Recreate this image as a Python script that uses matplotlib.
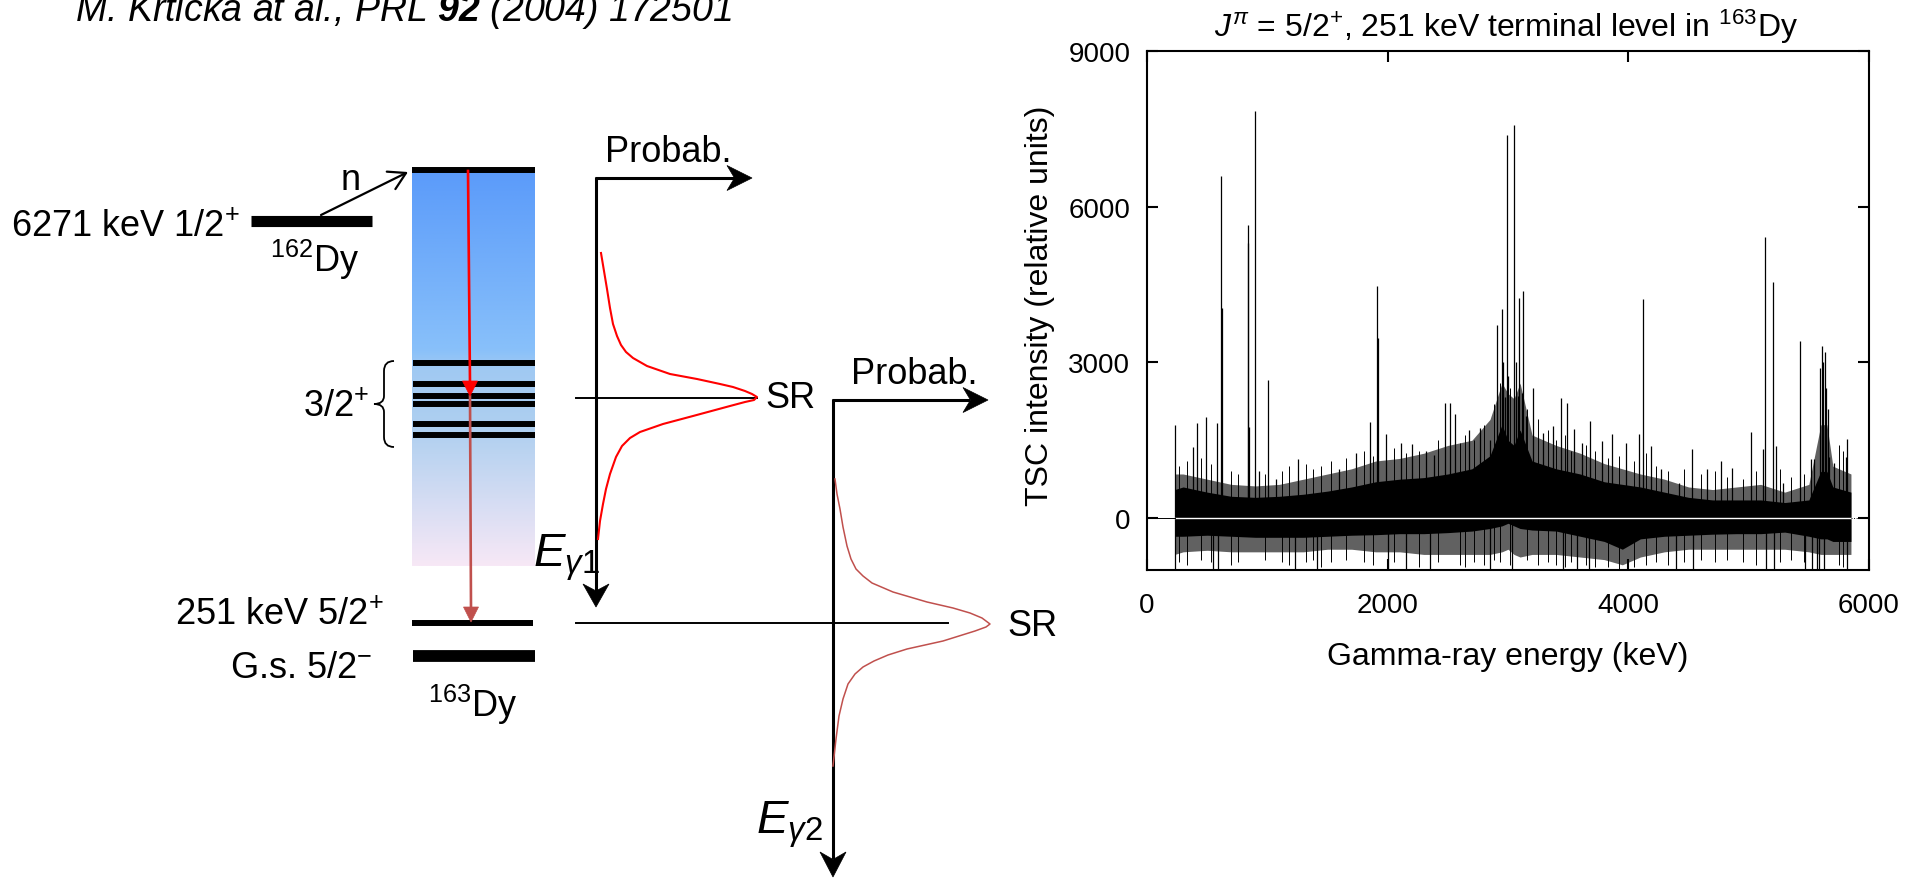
import numpy as np
import matplotlib
matplotlib.use("Agg")
import matplotlib.pyplot as plt
from matplotlib.patches import Polygon, PathPatch
from matplotlib.path import Path
from matplotlib.colors import LinearSegmentedColormap

plt.rcParams['font.family'] = ['Liberation Sans', 'DejaVu Sans']
plt.rcParams['mathtext.fontset'] = 'custom'
plt.rcParams['mathtext.rm'] = 'Liberation Sans'
plt.rcParams['mathtext.it'] = 'Liberation Sans:italic'
plt.rcParams['mathtext.bf'] = 'Liberation Sans:italic:bold'

W, H = 1907, 879

# --- TSC spectrum, 251 keV terminal level ---
# envelope of the dense noise band (keV, intensity)
env_e = [230, 300, 500, 700, 900, 1100, 1300, 1500, 1700, 1900, 2100, 2300, 2500,
         2700, 2850, 2950, 3000, 3050, 3100, 3200, 3400, 3600, 3800, 3950, 4100,
         4300, 4500, 4700, 4900, 5100, 5300, 5500, 5600, 5650, 5700, 5850]
core_hi = [550, 600, 500, 420, 400, 420, 460, 520, 600, 700, 750, 780, 850,
           950, 1200, 1800, 1500, 1400, 1700, 1100, 950, 850, 700, 650, 600,
           500, 400, 350, 350, 350, 300, 350, 900, 900, 600, 500]
core_lo = [-350, -350, -330, -350, -370, -370, -370, -350, -330, -320, -300, -300, -280,
           -250, -200, -150, -100, -150, -200, -230, -250, -350, -450, -600, -400,
           -350, -330, -310, -300, -300, -270, -350, -400, -400, -450, -450]
halo_hi = [850, 850, 750, 650, 620, 650, 750, 850, 950, 1100, 1150, 1250, 1400,
           1500, 1900, 2600, 2400, 2300, 2600, 1600, 1400, 1250, 1050, 950, 850,
           750, 600, 550, 600, 650, 500, 650, 1800, 1800, 1000, 850]
halo_lo = [-700, -650, -620, -650, -650, -650, -650, -600, -600, -650, -650, -700, -700,
           -700, -700, -650, -600, -700, -750, -700, -700, -750, -800, -900, -750,
           -650, -600, -600, -600, -600, -600, -650, -700, -700, -700, -700]

# resolved lines above the band
spike_e = [229, 384, 415, 492, 580, 615, 620, 836, 840, 848, 894, 932, 1005, 1075,
           1251, 1599, 1740, 1855, 1913, 1918, 1982, 2107, 2205, 2322, 2383, 2477,
           2522, 2560, 2680, 2766, 2851, 2910, 2952, 2955, 2977, 2993, 3000, 3050,
           3070, 3084, 3092, 3120, 3126, 3150, 3210, 3290, 3370, 3437, 3491, 3550,
           3614, 3680, 3785, 3864, 3983, 4088, 4122, 4186, 4271, 4418, 4530, 4654,
           4770, 4865, 5018, 5120, 5135, 5203, 5225, 5288, 5425, 5520, 5540, 5590,
           5606, 5615, 5636, 5645, 5660, 5670, 5712, 5805, 5817]
spike_h = [1790, 1365, 1830, 1940, 1830, 6600, 4050, 5300, 5650, 1760, 7850, 900, 2670, 760,
           1135, 940, 1260, 1850, 4470, 3470, 1615, 1455, 1420, 1290, 1225, 2210,
           2210, 2000, 1705, 1740, 1510, 3730, 4020, 3000, 2330, 7390, 2740, 7580,
           3000, 2360, 4240, 2420, 4370, 1970, 2500, 1640, 1770, 2320, 2220, 1710,
           1455, 1880, 1490, 1615, 1455, 1615, 4225, 1390, 940, 680, 1330, 940,
           1105, 970, 1650, 1330, 5420, 4550, 1390, 680, 3420, 1135, 1135, 2900,
           3310, 3000, 3210, 2500, 2100, 1170, 1070, 1170, 1520]

# smaller lines poking out of the band
minor_e = [270, 330, 450, 530, 700, 760, 980, 1120, 1180, 1320, 1380, 1450, 1530,
           1650, 1800, 1880, 2050, 2150, 2260, 2420, 2600, 2640, 2720, 2800, 2880,
           2930, 3020, 3160, 3250, 3330, 3400, 3470, 3520, 3650, 3720, 3830, 3920,
           4050, 4150, 4230, 4330, 4460, 4600, 4720, 4820, 4950, 5060, 5260, 5350,
           5460, 5750, 5780]
minor_h = [1000, 1100, 1150, 1050, 900, 850, 850, 900, 1000, 1050, 950, 1000, 1100,
           1150, 1300, 1200, 1350, 1250, 1300, 1500, 1450, 1600, 1500, 1800, 2200,
           2600, 2500, 2100, 1900, 1700, 1500, 1600, 1300, 1400, 1300, 1150, 1200,
           1100, 1250, 1000, 900, 950, 850, 900, 800, 750, 900, 950, 800,
           850, 1400, 1300]
minor_d = [-850, -900, -800, -850, -900, -850, -800, -850, -900, -850, -800, -950, -850,
           -800, -850, -900, -850, -900, -950, -850, -900, -950, -850, -900, -800,
           -850, -900, -800, -900, -850, -900, -950, -850, -900, -950, -950, -980,
           -950, -900, -850, -900, -850, -800, -850, -800, -850, -900, -850, -800,
           -850, -900, -950]

# lines going below the frame
dip_e = [229, 547, 594, 1226, 1409, 2004, 2150, 2354, 2850, 3033, 3456, 3571,
         3676, 4397, 4537, 5148, 5212, 5471, 5530, 5565, 5586, 5624, 5817]
dip_h = [-1100] * len(dip_e)

# --- level scheme (pixel layout) ---
sr_levels = [364, 385, 397, 405, 425, 436]


def head(ax, tip, d, length, width, color='black', notch=0.7):
    tx, ty = tip
    dx, dy = d
    px, py = -dy, dx
    bx, by = tx - dx * length, ty - dy * length
    nx, ny = tx - dx * length * notch, ty - dy * length * notch
    pts = [(tx, ty), (bx + px * width / 2, by + py * width / 2), (nx, ny),
           (bx - px * width / 2, by - py * width / 2)]
    ax.add_patch(Polygon(pts, closed=True, fc=color, ec=color, lw=0.5, zorder=5))


fig = plt.figure(figsize=(W / 100, H / 100), dpi=100)
ad = fig.add_axes([0, 0, 1, 1])
ad.set_axis_off()

# gradient box of the quasi-continuum
cmap = LinearSegmentedColormap.from_list('qc', [(0, '#5b9bfa'), (0.45, '#88c0fa'),
                                                (0.5, '#a0c9f3'), (0.66, '#b0d0f0'),
                                                (1.0, '#f7e8f6')])
grad = np.linspace(0, 1, 256).reshape(-1, 1)
ad.imshow(grad, extent=[412, 535, 567, 172], aspect='auto', cmap=cmap, zorder=1)

ad.set_xlim(0, W)
ad.set_ylim(H, 0)

lvl = dict(color='black', solid_capstyle='butt', zorder=3)
ad.plot([251, 372], [221.5, 221.5], lw=8, **lvl)
ad.plot([412, 535], [171, 171], lw=4.3, **lvl)
for y in sr_levels:
    ad.plot([413, 535], [y, y], lw=4.3, **lvl)
ad.plot([412, 533], [624, 624], lw=4.3, **lvl)
ad.plot([413, 535], [657, 657], lw=8.5, **lvl)

# neutron capture arrow
ad.annotate('', xy=(408, 173), xytext=(321, 216),
            arrowprops=dict(arrowstyle='->,head_length=0.6,head_width=0.35',
                            lw=1.6, color='black', shrinkA=0, shrinkB=0,
                            mutation_scale=20))

# cascade arrows
ad.plot([468, 470], [172, 384], color='#ff0000', lw=1.9, zorder=4)
head(ad, (470, 397), (0, 1), 15, 15, color='#ff0000', notch=1.0)
ad.plot([470, 471], [397, 610], color='#c0504d', lw=1.9, zorder=4)
head(ad, (471, 623), (0, 1), 15, 15, color='#c0504d', notch=1.0)

# brace for the 3/2+ levels
verts = [(394, 362), (384, 362), (384, 372), (384, 397), (384, 405), (374, 405),
         (384, 405), (384, 413), (384, 438), (384, 448), (394, 448)]
codes = [Path.MOVETO, Path.CURVE3, Path.CURVE3, Path.LINETO, Path.CURVE3, Path.CURVE3,
         Path.CURVE3, Path.CURVE3, Path.LINETO, Path.CURVE3, Path.CURVE3]
ad.add_patch(PathPatch(Path(verts, codes), fc='none', ec='black', lw=1.3))

fs = 26
ad.text(11, 237, r'6271 keV 1/2$^{+}$', fontsize=fs, va='baseline')
ad.text(270, 272, r'$^{162}$Dy', fontsize=fs, va='baseline')
ad.text(341, 190, 'n', fontsize=fs, va='baseline')
ad.text(303, 417, r'3/2$^{+}$', fontsize=fs, va='baseline')
ad.text(175, 625, r'251 keV 5/2$^{+}$', fontsize=fs, va='baseline')
ad.text(230, 678, r'G.s. 5/2$^{-}$', fontsize=fs, va='baseline')
ad.text(428, 717, r'$^{163}$Dy', fontsize=fs, va='baseline')
ad.text(75, 21, r'M. Krticka at al., PRL $\mathbf{92}$ (2004) 172501',
        fontsize=27, style='italic', va='baseline')

# first probability panel (E_gamma1)
ax_kw = dict(color='black', lw=2.2, solid_capstyle='butt', zorder=3)
ad.plot([596, 596], [178, 592], **ax_kw)
ad.plot([595, 735], [179, 179], **ax_kw)
head(ad, (596, 608), (0, 1), 23, 26)
head(ad, (752, 179), (1, 0), 25, 25)
ad.text(605, 162, 'Probab.', fontsize=fs, va='baseline')
ad.plot([576, 757], [399, 399], color='black', lw=1.4)
ad.text(765, 399, 'SR', fontsize=fs, va='center')
ad.text(533, 567, r'$E_{\gamma 1}$', fontsize=34, va='baseline')

c1x = [601, 604, 607, 610, 613, 617, 621, 626, 633, 647, 670, 697, 720, 733, 745, 752, 757,
       754, 745, 730, 693, 663, 640, 630, 622, 616, 610, 606, 603, 600, 598]
c1y = [254, 272, 290, 309, 325, 337, 346, 353, 359, 367, 375, 380, 385, 388, 392, 395, 398,
       401, 403, 407, 417, 425, 433, 439, 447, 458, 475, 490, 505, 522, 540]
ad.plot(c1x, c1y, color='#ff0000', lw=1.5, zorder=4)

# second probability panel (E_gamma2)
ad.plot([833, 833], [400, 860], **ax_kw)
ad.plot([832, 970], [401, 401], **ax_kw)
head(ad, (833, 878), (0, 1), 25, 26)
head(ad, (988, 401), (1, 0), 25, 25)
ad.text(851, 384, 'Probab.', fontsize=fs, va='baseline')
ad.plot([576, 948], [624, 624], color='black', lw=1.4)
ad.text(1007, 627, 'SR', fontsize=fs, va='center')
ad.text(756, 834, r'$E_{\gamma 2}$', fontsize=34, va='baseline')

c2x = [835, 837, 840, 843, 847, 851, 856, 863, 872, 893, 927, 953, 970, 982, 990,
       986, 975, 943, 907, 888, 874, 863, 855, 848, 843, 839, 836, 833]
c2y = [480, 495, 510, 528, 547, 560, 570, 577, 584, 593, 603, 609, 614, 619, 625,
       628, 632, 642, 650, 656, 662, 668, 675, 685, 700, 717, 740, 767]
ad.plot(c2x, c2y, color='#c0504d', lw=1.1, zorder=4)

# --- spectrum panel ---
x0, x1, y0, y1 = 1147, 1869, 52, 571
ax = fig.add_axes([x0 / W, 1 - y1 / H, (x1 - x0) / W, (y1 - y0) / H])
ax.fill_between(env_e, halo_lo, halo_hi, color='0.38', lw=0)
ax.fill_between(env_e, core_lo, core_hi, color='black', lw=0)
ax.vlines(minor_e, minor_d, minor_h, color='black', lw=0.7)
ax.vlines(spike_e, 0, spike_h, color='black', lw=0.9)
ax.vlines(dip_e, 0, dip_h, color='black', lw=0.9)
ax.plot([230, 5850], [0, 0], color='white', lw=1.0)
ax.plot([0, 230], [0, 0], color='black', lw=0.7)
ax.plot([5850, 6000], [0, 0], color='black', lw=0.7, ls=':')

ax.set_xlim(0, 6000)
ax.set_ylim(-1000, 9000)
ax.set_xticks([0, 2000, 4000, 6000])
ax.set_yticks([0, 3000, 6000, 9000])
ax.tick_params(direction='in', length=8, width=1.5, labelsize=20,
               top=True, right=True, pad=12)
ax.tick_params(axis='x', pad=16)
for s in ax.spines.values():
    s.set_linewidth(1.5)

ad.text(1508, 657, 'Gamma-ray energy (keV)', fontsize=23, ha='center', va='center')
ad.text(1040, 306, 'TSC intensity (relative units)', fontsize=23, rotation=90,
        ha='center', va='center')
ad.text(1506, 37, r'$J^{\pi}$ = 5/2$^{+}$, 251 keV terminal level in $^{163}$Dy',
        fontsize=23, ha='center', va='baseline')

fig.savefig('out.png', dpi=100)
